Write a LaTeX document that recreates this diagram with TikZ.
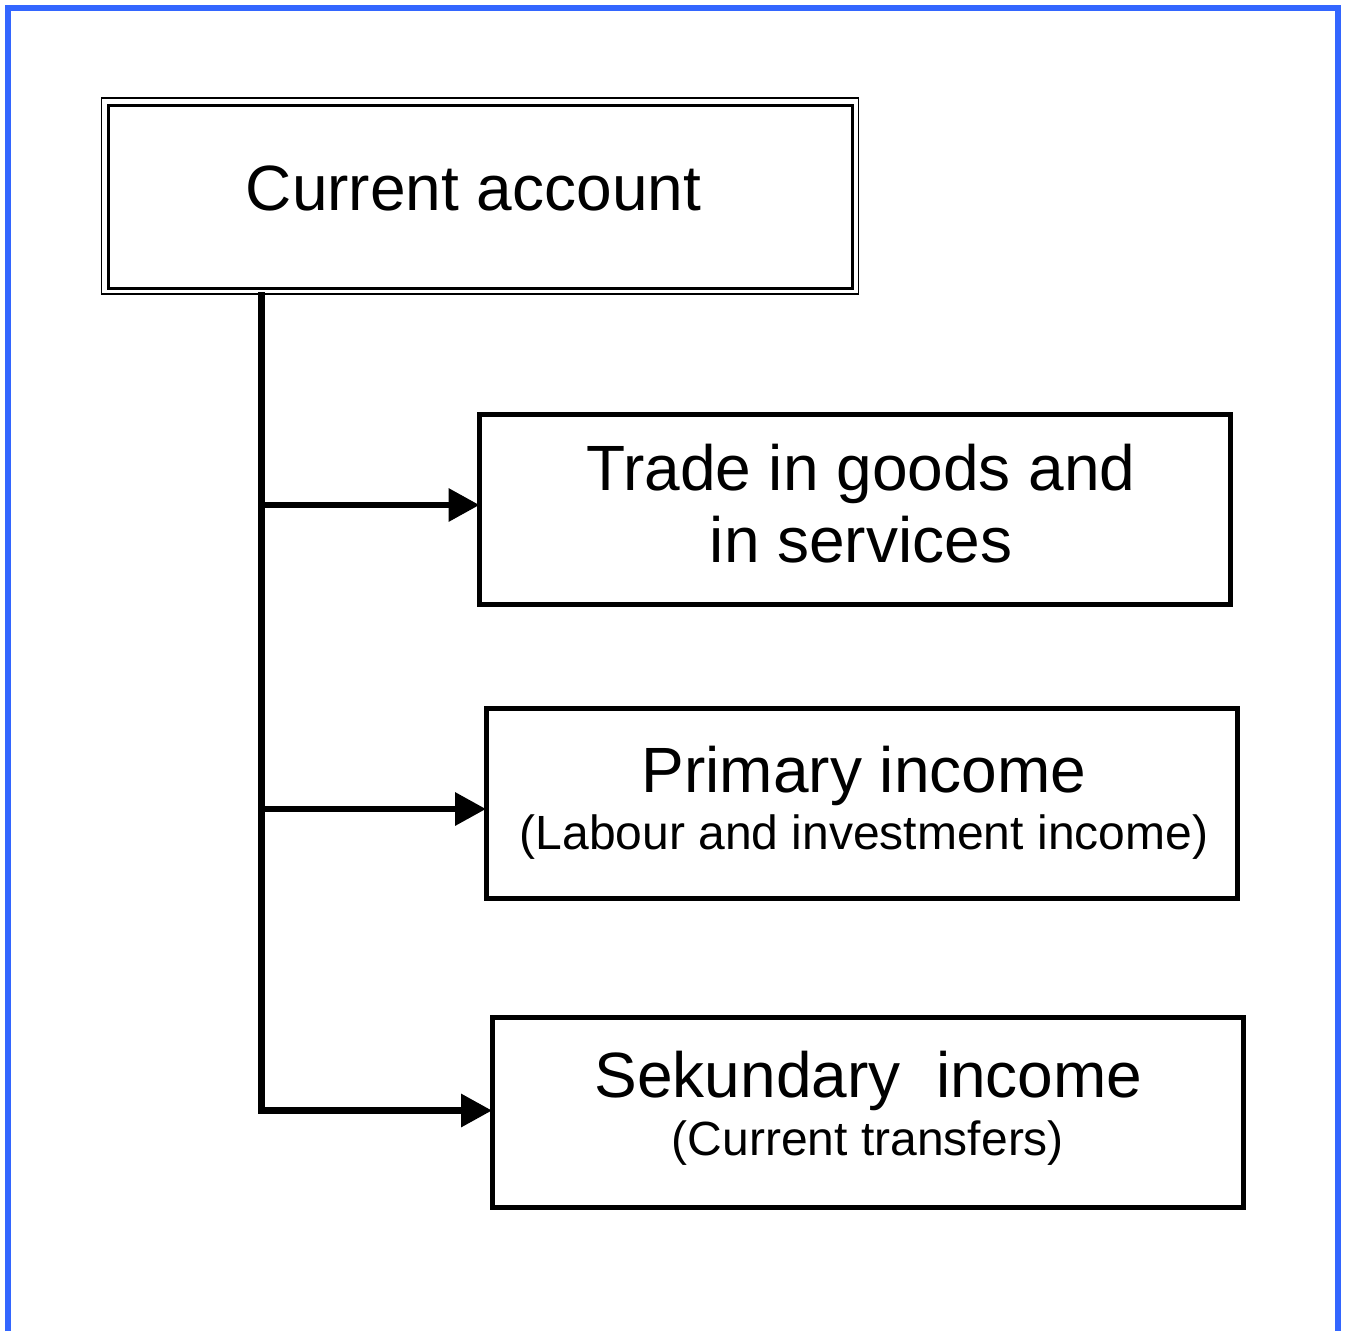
\documentclass[tikz,border=0pt]{standalone}
\usepackage{fontspec}
\setmainfont{Liberation Sans}
\usetikzlibrary{arrows.meta}
\definecolor{frameblue}{HTML}{3366FF}
\tikzset{
  x=1pt, y=-1pt,
  headbox/.style={draw, line width=3pt, inner sep=0pt, outer sep=0pt,
    minimum width=744pt, minimum height=183pt},
  itembox/.style={draw, line width=5pt, inner sep=0pt, outer sep=0pt,
    minimum width=751pt, minimum height=190pt},
  bigtext/.style={anchor=base, inner sep=0pt, font=\fontsize{64}{72}\selectfont},
  smalltext/.style={anchor=base, inner sep=0pt, font=\fontsize{48}{54}\selectfont},
  link/.style={line width=6.5pt, line join=miter},
  linkarrow/.style={link, -{Triangle[length=31pt, width=32pt]}}
}
\begin{document}
\begin{tikzpicture}
  \useasboundingbox (0,0) rectangle (1346,1331);
  % open blue frame (no bottom edge)
  \draw[frameblue, line width=6pt, line join=miter] (8,1331) -- (8,8) -- (1338,8) -- (1338,1331);

  % heading box with its thin outer line
  \node[headbox] (ca) at (480.5,196.5) {};
  \draw[line width=1.5pt] ([shift={(-7,-7)}]ca.north west) rectangle ([shift={(6,6)}]ca.south east);
  \node[bigtext] (catxt) at (473.5,210) {Current account};

  % component boxes
  \node[itembox] (trade) at (855,509) {};
  \node[bigtext] (tradeA) at (861,490) {Trade in goods and};
  \node[bigtext] (tradeB) at (861,562) {in services};

  \node[itembox] (prim) at (861.5,803.5) {};
  \node[bigtext] (primA) at (864,792) {Primary income};
  \node[smalltext] (primB) at (864,849) {(Labour and investment income)};

  \node[itembox] (sec) at (867.5,1112) {};
  \node[bigtext] (secA) at (868.5,1097) {Sekundary\ \ income};
  \node[smalltext] (secB) at (868,1155) {(Current transfers)};

  % trunk and branches
  \coordinate (top) at (261.5,292);
  \coordinate (j1) at (261.5,505);
  \coordinate (j2) at (261.5,809);
  \coordinate (j3) at (261.5,1110.5);
  \draw[linkarrow] (top) -- (j3) -- (j3 -| sec.west);
  \draw[linkarrow] (j1) -- (j1 -| trade.west);
  \draw[linkarrow] (j2) -- (j2 -| prim.west);
\end{tikzpicture}
\end{document}
